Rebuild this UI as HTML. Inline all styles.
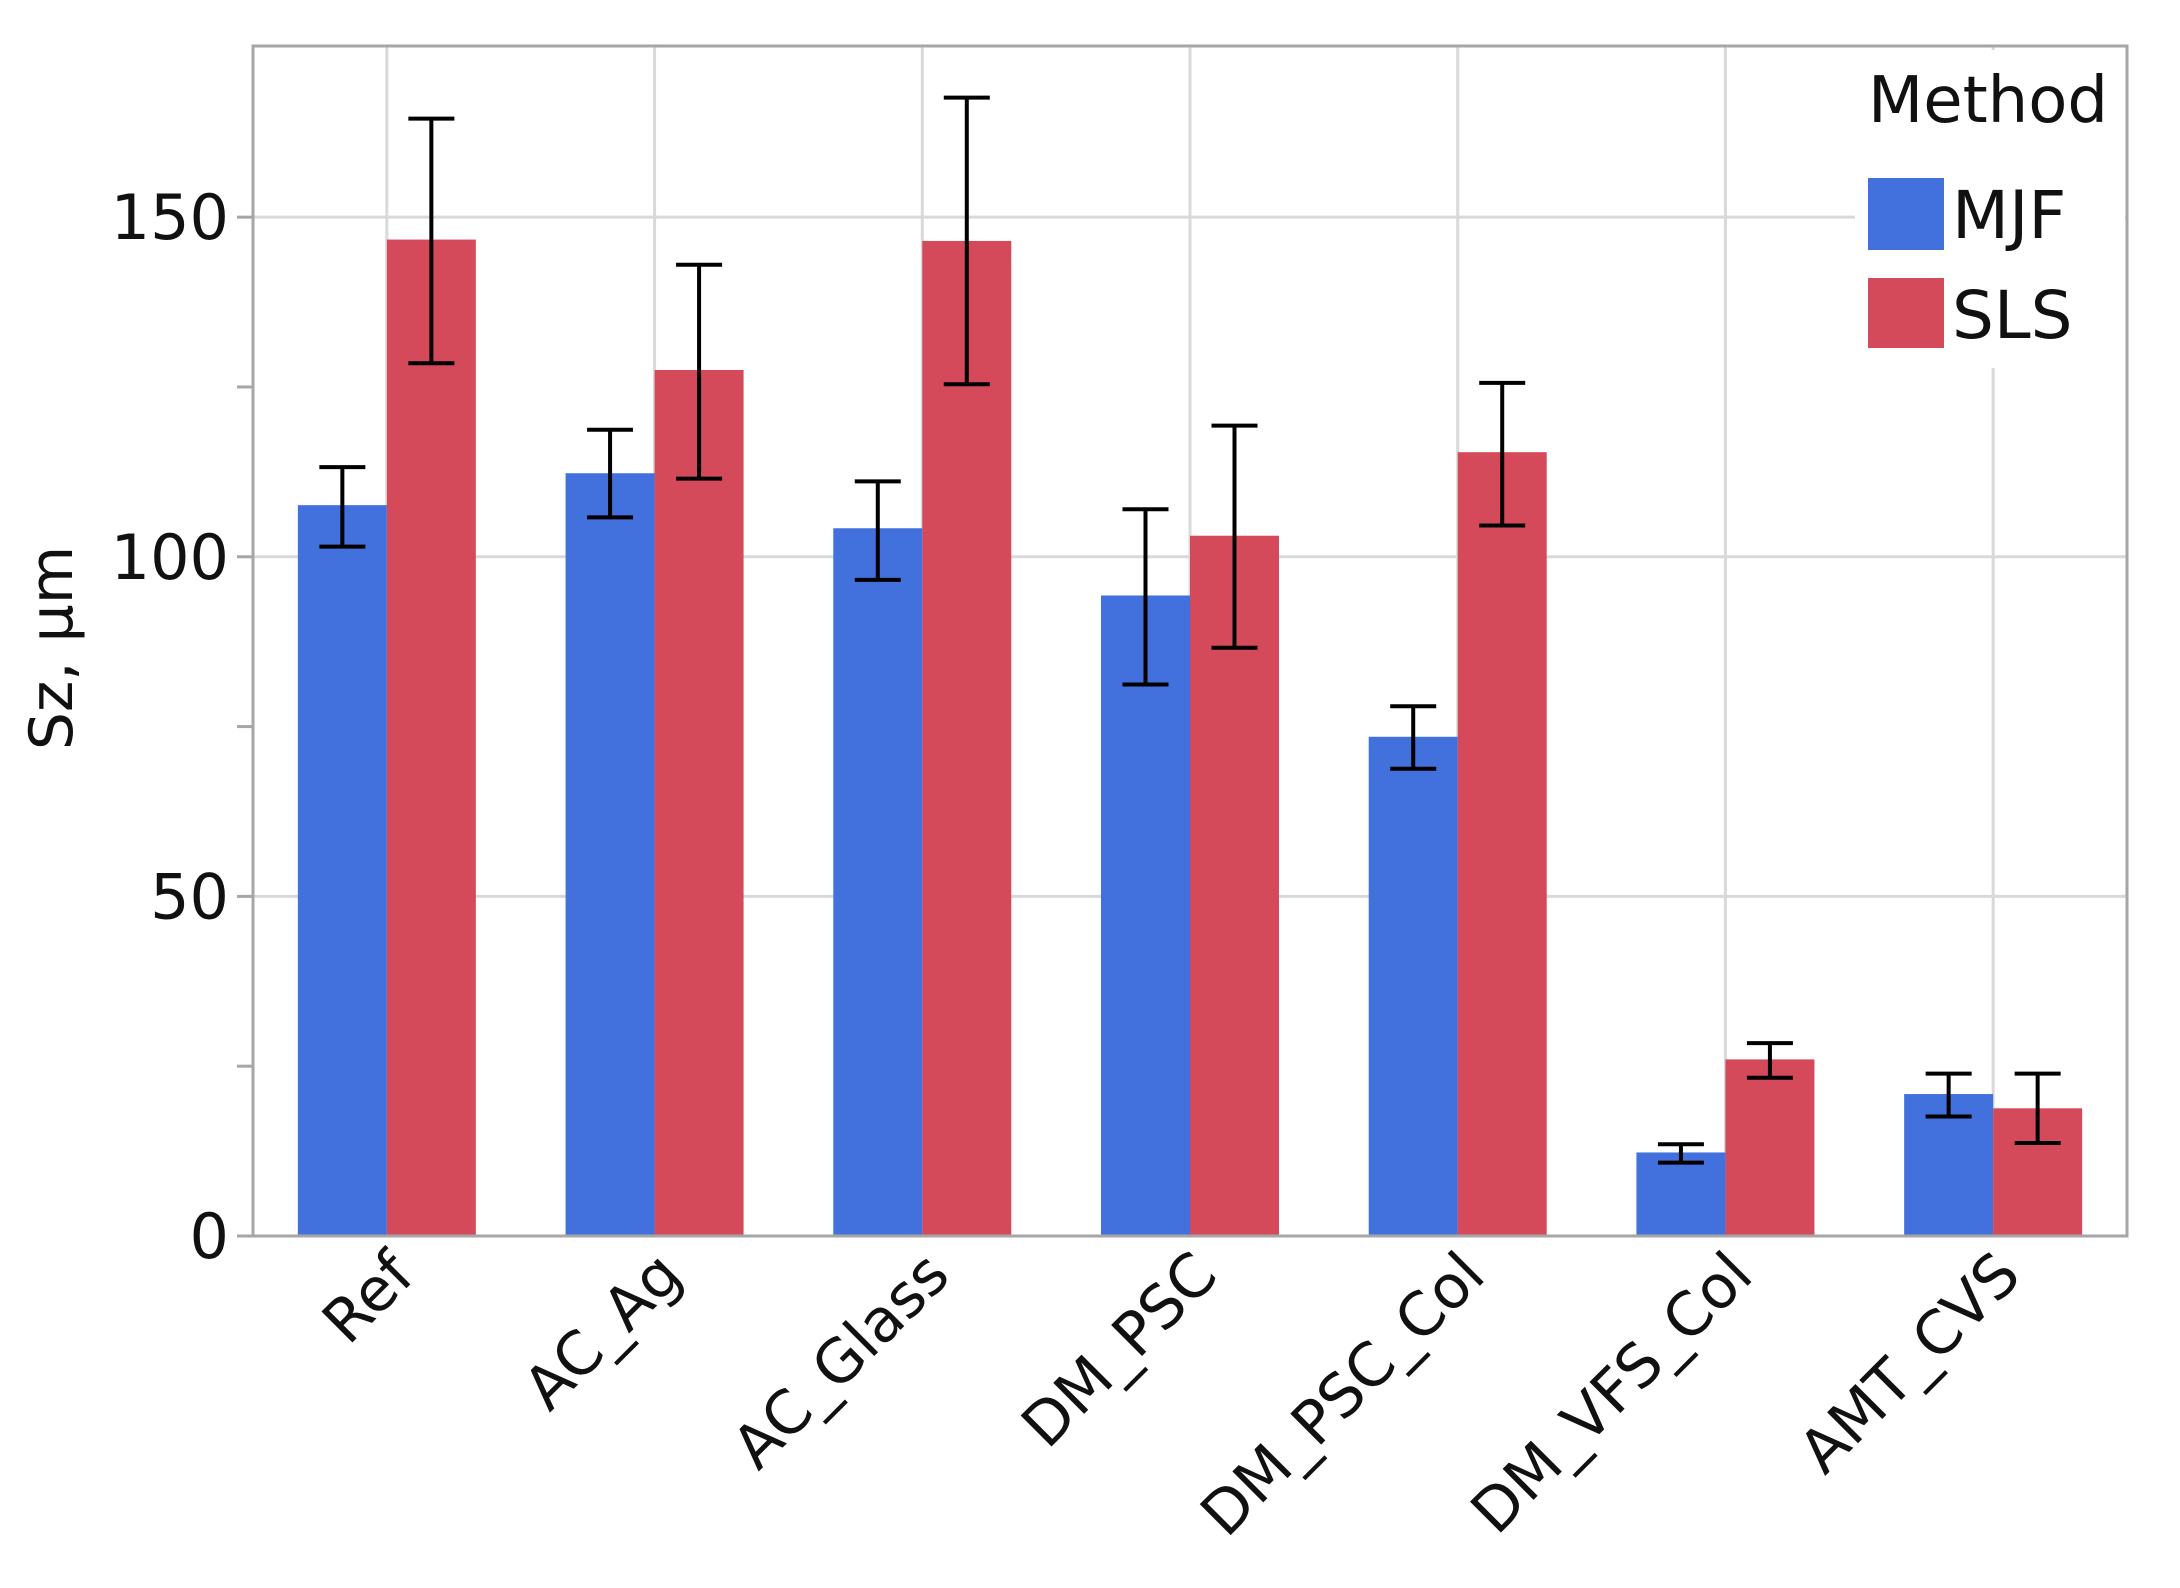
<!DOCTYPE html>
<html><head><meta charset="utf-8"><style>
html,body{margin:0;padding:0;background:#fff;}
svg{display:block;font-family:"DejaVu Sans","Liberation Sans",sans-serif;}
</style></head><body>
<svg id="chart" width="2180" height="1588" viewBox="0 0 2180 1588">
<g id="grid"></g>
<g id="bars"></g>
<g id="errs"></g>
<g id="axes"></g>
<g id="legend">
<rect x="1855" y="50" width="270" height="318" fill="#fff"/>
<text x="1988" y="122" font-size="64" text-anchor="middle" fill="#111">Method</text>
<rect x="1868" y="178" width="76" height="72" fill="#4271dd"/>
<text x="1952" y="238" font-size="66" fill="#111">MJF</text>
<rect x="1868" y="278" width="76" height="70" fill="#d44a5a"/>
<text x="1952" y="338" font-size="66" fill="#111">SLS</text>
</g>
<text transform="translate(72,648) rotate(-90)" font-size="60" text-anchor="middle" fill="#111">Sz, µm</text>
</svg>
<script>
const categories = ["Ref","AC_Ag","AC_Glass","DM_PSC","DM_PSC_Col","DM_VFS_Col","AMT_CVS"];
const mjfValues = [107.6,112.3,104.2,94.3,73.5,12.3,20.9];
const mjfHigh = [113.2,118.7,111.1,107,78,13.5,23.9];
const mjfLow = [101.5,105.8,96.6,81.2,68.8,10.8,17.6];
const slsValues = [146.7,127.5,146.5,103.1,115.4,26,18.8];
const slsHigh = [164.5,143,167.6,119.3,125.6,28.4,23.9];
const slsLow = [128.5,111.5,125.4,86.6,104.6,23.3,13.7];
const yTicks = [0,50,100,150];
const yMinorTicks = [25,75,125];

const NS="http://www.w3.org/2000/svg";
const L=253,R=2127,T=46,B=1236,YMAX=175.2;
const band=(R-L)/categories.length, bw=89, cap=46;
function y(v){return B-(v/YMAX)*(B-T);}
function xc(i){return L+band*(i+0.5);}
function mk(tag,attrs,parent){const e=document.createElementNS(NS,tag);for(const k in attrs)e.setAttribute(k,attrs[k]);parent.appendChild(e);return e;}
const grid=document.getElementById('grid'),bars=document.getElementById('bars'),errs=document.getElementById('errs'),axes=document.getElementById('axes');

yTicks.forEach(t=>{
  if(t>0){const g=mk('line',{x1:L,x2:R,y1:y(t),y2:y(t),stroke:'#d9d9d9','stroke-width':3},grid);
  
  }
  const tk=mk('line',{x1:L-16,x2:L,y1:y(t),y2:y(t),stroke:'#a6a6a6','stroke-width':3},axes);
  
  
  const tx=mk('text',{x:L-24,y:y(t)+22,'font-size':62,'text-anchor':'end',fill:'#111'},axes);
  tx.textContent=t;
  
  
});
yMinorTicks.forEach(t=>{
  const tk=mk('line',{x1:L-16,x2:L,y1:y(t),y2:y(t),stroke:'#a6a6a6','stroke-width':3},axes);
  
  
});
categories.forEach((c,i)=>{
  const g=mk('line',{x1:xc(i),x2:xc(i),y1:T,y2:B,stroke:'#d9d9d9','stroke-width':3},grid);
  
  
  const b1=mk('rect',{x:xc(i)-bw,y:y(mjfValues[i]),width:bw,height:B-y(mjfValues[i]),fill:'#4271dd'},bars);
  
  
  const b2=mk('rect',{x:xc(i),y:y(slsValues[i]),width:bw,height:B-y(slsValues[i]),fill:'#d44a5a'},bars);
  
  
  [[xc(i)-bw/2,mjfHigh[i],mjfLow[i],'mjf'],[xc(i)+bw/2,slsHigh[i],slsLow[i],'sls']].forEach(([x,h,l,s])=>{
    const e=mk('path',{d:`M${x-cap/2},${y(h)}H${x+cap/2}M${x},${y(h)}V${y(l)}M${x-cap/2},${y(l)}H${x+cap/2}`,stroke:'#000','stroke-width':4,fill:'none'},errs);
    
    
  });
  const tx=mk('text',{transform:`translate(${xc(i)+30},${B+42}) rotate(-45)`,'font-size':60,'text-anchor':'end',fill:'#111'},axes);
  tx.textContent=c;
  
  
});
const fr=mk('path',{d:`M${L},${T}H${R}V${B}H${L}Z`,stroke:'#a6a6a6','stroke-width':3,fill:'none'},axes);


</script>
</body></html>
